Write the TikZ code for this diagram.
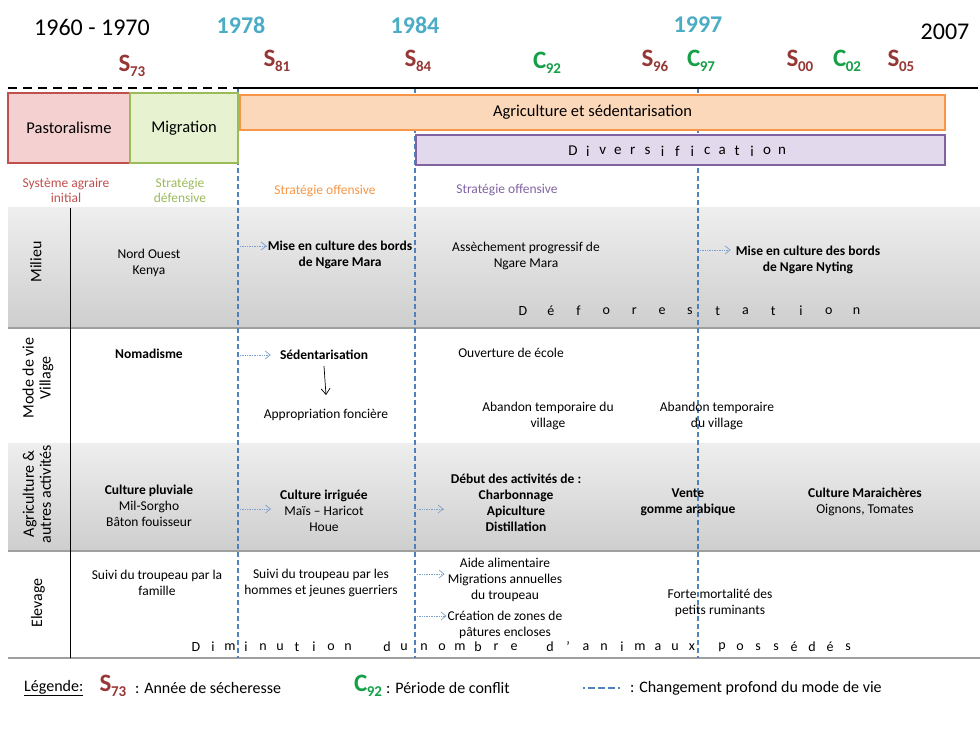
\documentclass[tikz,border=0pt]{standalone}
\usepackage{fontspec}
\setmainfont{Carlito}
\usetikzlibrary{arrows.meta}
\definecolor{yearc}{RGB}{75,172,198}
\definecolor{sred}{RGB}{149,55,53}
\definecolor{cgreen}{RGB}{20,160,70}
\definecolor{dblue}{RGB}{79,129,189}
\definecolor{pastbd}{RGB}{192,80,77}
\definecolor{pastfill}{RGB}{244,208,208}
\definecolor{migbd}{RGB}{155,187,89}
\definecolor{migfill}{RGB}{230,242,208}
\definecolor{agbd}{RGB}{247,150,70}
\definecolor{agfill}{RGB}{252,216,186}
\definecolor{divbd}{RGB}{128,100,162}
\definecolor{divfill}{RGB}{226,218,236}
\definecolor{rowtop}{RGB}{238,238,238}
\definecolor{rowbot}{RGB}{206,206,206}
\newcommand{\fsz}[2]{\fontsize{#1}{#2}\selectfont}
\newcommand{\Sdry}[1]{{\color{sred}\bfseries\fsz{25}{25}S\kern-0.5pt\raisebox{-5pt}{\fsz{15}{15}#1}}}
\newcommand{\Cconf}[1]{{\color{cgreen}\bfseries\fsz{25}{25}C\kern-0.5pt\raisebox{-5pt}{\fsz{15}{15}#1}}}
\tikzset{
  body/.style={font=\fsz{13.5}{16}, align=center, inner sep=1pt},
  bodyb/.style={font=\fsz{13.5}{16}\bfseries, align=center, inner sep=1pt},
  yearlab/.style={font=\fsz{24}{24}\bfseries, text=yearc},
  dashv/.style={draw=dblue, line width=1.6pt, dash pattern=on 5pt off 3pt},
  dotarr/.style={draw=dblue!75, line width=0.7pt, densely dotted, -{Straight Barb[length=5pt,width=8pt]}},
  spaced/.style={font=\fsz{14}{14}, inner sep=0pt},
  rowlab/.style={font=\fsz{16}{17}, align=center, rotate=90},
  captxt/.style={font=\fsz{13.5}{15}, align=center},
  titlebox/.style={font=\fsz{16.5}{17}, inner sep=0pt},
}
\begin{document}
\begin{tikzpicture}[x=1pt,y=-1pt]
\useasboundingbox (0,0) rectangle (980,730);
% rows
\fill[top color=rowtop, bottom color=rowbot] (8,208) rectangle (980,328);
\fill[top color=rowtop, bottom color=rowbot] (8,443) rectangle (980,551);
\draw[gray!75, line width=1.3pt] (8,328) -- (980,328);
\draw[gray!75, line width=1.3pt] (8,551) -- (980,551);
\draw[gray!75, line width=1.3pt] (8,658) -- (980,658);
\draw[black, line width=0.8pt] (70,208) -- (70,658);
% dashed verticals
\coordinate (v1t) at (238,88); \coordinate (v1b) at (238,658);
\coordinate (v2t) at (415,88); \coordinate (v2b) at (415,658);
\coordinate (v3t) at (698,88); \coordinate (v3b) at (698,658);
\draw[dashv] (v1t) -- (v1b);
\draw[dashv] (v2t) -- (v2b);
\draw[dashv] (v3t) -- (v3b);
% top timeline
\coordinate (tl0) at (8,88); \coordinate (tl1) at (238,88); \coordinate (tl2) at (978,88);
\draw[black, line width=2.5pt, dash pattern=on 9pt off 6pt] (tl0) -- (tl1);
\draw[black, line width=2.5pt] (tl1) -- (tl2);
% years
\node[font=\fsz{24}{24}] (y60) at (92,27) {1960 - 1970};
\node[yearlab] (y78) at (241,25) {1978};
\node[yearlab] (y84) at (415,25) {1984};
\node[yearlab] (y97) at (698,25) {1997};
\node[font=\fsz{24}{24}] (y07) at (945,32) {2007};
% events
\node (s73) at (132,66) {\Sdry{73}};
\node (s81) at (277,61) {\Sdry{81}};
\node (s84) at (418,61) {\Sdry{84}};
\node (c92) at (547,63) {\Cconf{92}};
\node (s96) at (655,61) {\Sdry{96}};
\node (c97) at (701,61) {\Cconf{97}};
\node (s00) at (800,61) {\Sdry{00}};
\node (c02) at (847,61) {\Cconf{02}};
\node (s05) at (901,61) {\Sdry{05}};
% phase boxes
\node[titlebox, draw=pastbd, fill=pastfill, line width=2pt, minimum width=122, minimum height=70] (past) at (69,128) {Pastoralisme};
\node[titlebox, draw=migbd, fill=migfill, line width=1.5pt, minimum width=108, minimum height=70] (mig) at (184,128) {Migration};
\node[titlebox, draw=agbd, fill=agfill, line width=2pt, minimum width=705, minimum height=35] (agri) at (592.5,112.5) {Agriculture et sédentarisation};
\node[draw=divbd, fill=divfill, line width=2pt, minimum width=529, minimum height=30, inner sep=0pt] (div) at (680.5,150) {};
\foreach \ch [count=\i from 0] in {D,i,v,e,r,s,i,f,i,c,a,t,i,o,n}
  \node[spaced, font=\fsz{15}{15}] (dv\i) at (573+\i*14.93,151) {\ch};
% captions
\node[captxt, text=pastbd] (cap1) at (66,190) {Système agraire\\initial};
\node[captxt, text=migbd] (cap2) at (180,190) {Stratégie\\défensive};
\node[captxt, text=agbd] (cap3) at (325,191) {Stratégie offensive};
\node[captxt, text=divbd] (cap4) at (507,190) {Stratégie offensive};
% row labels
\node[rowlab] (rl1) at (36,262) {Milieu};
\node[rowlab] (rl2) at (38,378) {Mode de vie\\Village};
\node[rowlab] (rl3) at (37,494) {Agriculture \&\\autres activités};
\node[rowlab] (rl4) at (38,603) {Elevage};
% Milieu
\node[body] (m1) at (149,263) {Nord Ouest\\Kenya};
\node[bodyb] (m2) at (340,255) {Mise en culture des bords\\de Ngare Mara};
\node[body] (m3) at (526,256) {Assèchement progressif de\\Ngare Mara};
\node[bodyb] (m4) at (808,260) {Mise en culture des bords\\de Ngare Nyting};
\coordinate (am2) at (240,246); \coordinate (am4) at (700,250);
\draw[dotarr] (am2) -- (m2.west |- am2);
\draw[dotarr] (am4) -- ([xshift=-4pt]m4.west |- am4);
\foreach \ch [count=\i from 0] in {D,é,f,o,r,e,s,t,a,t,i,o,n}
  \node[spaced] (df\i) at (523+\i*27.8,311) {\ch};
% Mode de vie
\node[bodyb] (v1) at (149,354) {Nomadisme};
\node[bodyb] (v2) at (324,355) {Sédentarisation};
\node[body] (v3) at (326,415) {Appropriation foncière};
\node[body] (v4) at (511,353) {Ouverture de école};
\node[body] (v5) at (548,416) {Abandon temporaire du\\village};
\node[body] (v6) at (717,416) {Abandon temporaire\\du village};
\coordinate (av2) at (240,355);
\draw[dotarr] (av2) -- ([xshift=-8pt]v2.west |- av2);
\draw[black, line width=0.7pt, -{Straight Barb[length=6pt,width=9pt]}] ([yshift=-5pt]v2.south) -- ([yshift=13pt]v3.north);
% Agriculture
\node[body] (g1) at (149,506) {\textbf{Culture pluviale}\\Mil-Sorgho\\Bâton fouisseur};
\node[body] (g2) at (324,511) {\textbf{Culture irriguée}\\Maïs – Haricot\\Houe};
\node[bodyb] (g3) at (516,503) {Début des activités de :\\Charbonnage\\Apiculture\\Distillation};
\node[bodyb] (g4) at (688,502) {Vente\\gomme arabique};
\node[body] (g5) at (865,502) {\textbf{Culture Maraichères}\\Oignons, Tomates};
\coordinate (ag2) at (240,509); \coordinate (ag3) at (417,509);
\draw[dotarr] (ag2) -- ([xshift=-8pt]g2.west |- ag2);
\draw[dotarr] (ag3) -- ([xshift=-6pt]g3.west |- ag3);
% Elevage
\node[body] (e1) at (157,583) {Suivi du troupeau par la\\famille};
\node[body] (e2) at (321,583) {Suivi du troupeau par les\\hommes et jeunes guerriers};
\node[body] (e3) at (505,580) {Aide alimentaire\\Migrations annuelles\\du troupeau};
\node[body] (e4) at (505,625) {Création de zones de\\pâtures encloses};
\node[body] (e5) at (720,603) {Forte mortalité des\\petits ruminants};
\coordinate (ae3) at (417,574); \coordinate (ae4) at (417,616);
\draw[dotarr] (ae3) -- ([xshift=-2pt]e3.west |- ae3);
\draw[dotarr] (ae4) -- (e4.west |- ae4);
\foreach \ch/\x [count=\i] in {D/196,i/213,m/230,i/246,n/263,u/280,t/297,i/314,o/331,n/348,d/387,u/404,n/424,o/442,m/460,b/478,r/496,e/514,d/550,’/568,a/586,n/604,i/622,m/640,a/658,u/675,x/692,p/722,o/740,s/758,s/776,é/794,d/812,é/830,s/848}
  \node[spaced] (dm\i) at (\x,647) {\ch};
% legend
\node[anchor=west, font=\fsz{16}{16}, inner sep=0pt] (leg) at (24,688) {\underline{Légende:}};
\node (legs) at (113,686) {\Sdry{73}};
\node[anchor=west, font=\fsz{16}{16}, inner sep=0pt] (legst) at (135,688) {: Année de sécheresse};
\node (legc) at (368,686) {\Cconf{92}};
\node[anchor=west, font=\fsz{16}{16}, inner sep=0pt] (legct) at (386,688) {: Période de conflit};
\coordinate (ld0) at (583,688); \coordinate (ld1) at (622,688);
\draw[draw=dblue, line width=1.8pt, dash pattern=on 2pt off 3pt on 7pt off 3pt on 7pt off 3pt on 7pt off 3pt] (ld0) -- (ld1);
\node[anchor=west, font=\fsz{16}{16}, inner sep=0pt] (legdt) at (630,688) {: Changement profond du mode de vie};
\end{tikzpicture}
\end{document}
